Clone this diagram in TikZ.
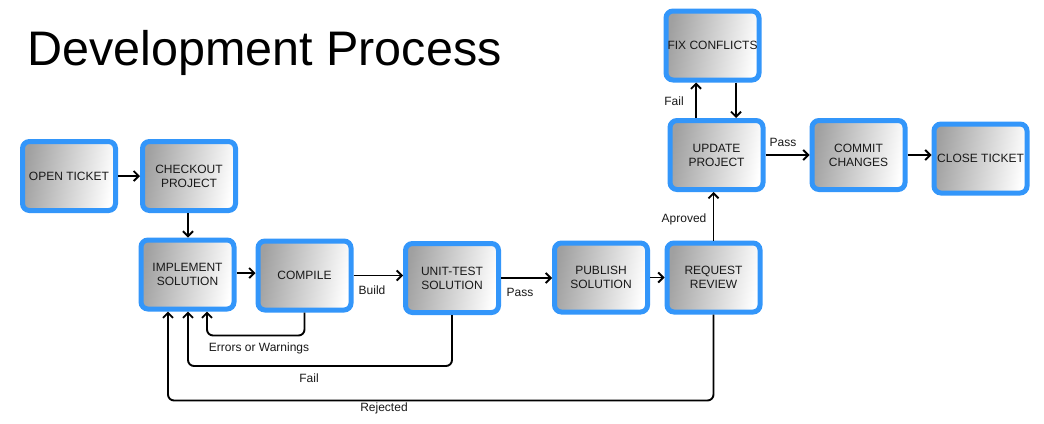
\documentclass[tikz,border=0pt]{standalone}
\usepackage{fontspec}
\setmainfont{Liberation Sans}
\usetikzlibrary{arrows.meta,calc}
\definecolor{boxblue}{RGB}{51,150,250}
\definecolor{boxgray}{RGB}{160,160,160}
\definecolor{txt}{RGB}{25,25,25}
\tikzset{
  procbox/.style={draw=boxblue, line width=5pt, rounded corners=7pt,
    left color=boxgray, right color=white, shading angle=80,
    minimum width=93pt, minimum height=69pt, inner sep=0pt,
    align=center, text=txt, font=\fontsize{12}{14}\selectfont},
  conn/.style={line width=1.9pt, -{Straight Barb[length=5pt,width=10pt,line width=1.9pt]}},
  lbl/.style={font=\fontsize{12}{14}\selectfont, text=txt, inner sep=0pt}
}
\begin{document}
\begin{tikzpicture}[x=1pt,y=-1pt]
\useasboundingbox (0,0) rectangle (1044,423);
\fill[white] (0,0) rectangle (1044,423);
\node[anchor=base west, inner sep=0pt, font=\fontsize{48.5}{52}\selectfont] (title) at (27,65) {Development Process};

\node[procbox] (open) at (69,176) {OPEN TICKET};
\node[procbox] (checkout) at (189,176) {CHECKOUT\\PROJECT};
\node[procbox] (impl) at (187.5,274.5) {IMPLEMENT\\SOLUTION};
\node[procbox] (compile) at (304.5,275.5) {COMPILE};
\node[procbox] (unit) at (452,278) {UNIT-TEST\\SOLUTION};
\node[procbox] (publish) at (601,277.5) {PUBLISH\\SOLUTION};
\node[procbox] (review) at (713.5,277.5) {REQUEST\\REVIEW};
\node[procbox] (fix) at (712.5,45.5) {FIX CONFLICTS};
\node[procbox] (update) at (716.5,155) {UPDATE\\PROJECT};
\node[procbox] (commit) at (858.5,155) {COMMIT\\CHANGES};
\node[procbox] (close) at (980.5,158.5) {CLOSE TICKET};

\draw[conn] (open.east) -- (checkout.west |- open.east);
\draw[conn] ([xshift=-1pt]checkout.south) -- ([xshift=-1pt]checkout.south |- impl.north);
\draw[conn] ([yshift=1.5pt]impl.east) -- ([yshift=1.5pt]compile.west |- impl.east);
\draw[conn] (compile.east) -- (unit.west |- compile.east);
\draw[conn] (unit.east) -- (publish.west |- unit.east);
\draw[conn] (publish.east) -- (review.west |- publish.east);
\draw[conn] (review.north) -- (review.north |- update.south);
\draw[conn] ([xshift=-20.5pt]update.north) -- ([xshift=-20.5pt]update.north |- fix.south);
\draw[conn] ([xshift=19.5pt]update.north |- fix.south) -- ([xshift=19.5pt]update.north);
\draw[conn] (update.east) -- (commit.west |- update.east);
\draw[conn] (commit.east) -- (close.west |- commit.east);

\draw[conn, rounded corners=6pt] (compile.south) -- ++(0,23) -| ([xshift=19.5pt]impl.south);
\draw[conn, rounded corners=6pt] (unit.south) -- ++(0,51) -| ([xshift=0.5pt]impl.south);
\draw[conn, rounded corners=6pt] (review.south) -- ++(0,86) -| ([xshift=-19.5pt]impl.south);

\node[lbl] (lbuild) at (372,290) {Build};
\node[lbl] (lpass1) at (520,292) {Pass};
\node[lbl] (lapr) at (684,219) {Aproved};
\node[lbl] (lfail1) at (674,101) {Fail};
\node[lbl] (lpass2) at (783,142) {Pass};
\node[lbl] (lerr) at (259,348) {Errors or Warnings};
\node[lbl] (lfail2) at (309,378) {Fail};
\node[lbl] (lrej) at (384,408) {Rejected};
\end{tikzpicture}
\end{document}
